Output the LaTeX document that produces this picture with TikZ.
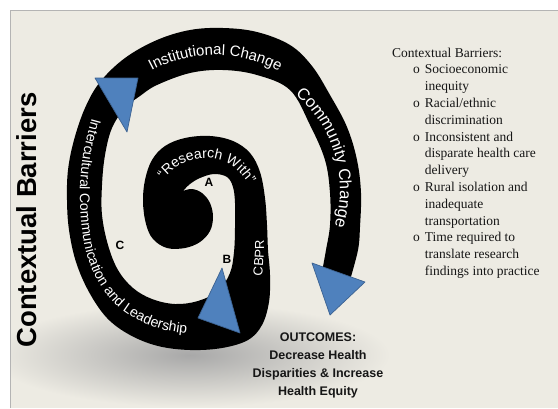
\documentclass[tikz,border=0pt]{standalone}
\usepackage{fontspec}
\setmainfont{Liberation Serif}
\setsansfont{Liberation Sans}
\usetikzlibrary{decorations.text}
\definecolor{bgcol}{RGB}{237,235,227}
\definecolor{arrowblue}{RGB}{79,129,189}
\definecolor{arrowedge}{RGB}{60,98,145}
\definecolor{framegray}{RGB}{180,180,180}
\definecolor{inkdark}{RGB}{22,22,22}
\newcommand\fInst{\sffamily\fontsize{15}{15}\selectfont\color{white}}
\newcommand\fComm{\sffamily\fontsize{16.5}{16.5}\selectfont\color{white}}
\newcommand\fInter{\sffamily\fontsize{14}{14}\selectfont\color{white}}
\newcommand\fRes{\sffamily\fontsize{14}{14}\selectfont\color{white}}
\newcommand\fCbpr{\sffamily\fontsize{13}{13}\selectfont\color{white}}
\tikzset{
  spiralband/.style={fill=black},
  bluearrow/.style={fill=arrowblue, draw=arrowedge, line width=0.7pt, line join=round},
  letterlabel/.style={font=\sffamily\bfseries\fontsize{12}{12}\selectfont, text=black, inner sep=0pt},
  sidetitle/.style={font=\sffamily\bfseries\fontsize{27.5}{27.5}\selectfont, text=black, inner sep=0pt, rotate=90},
  barrierlist/.style={font=\fontsize{13.5}{16.8}\selectfont, text=inkdark, inner sep=0pt, anchor=base west},
  outcomebox/.style={font=\sffamily\bfseries\fontsize{12.5}{18}\selectfont, text=inkdark, inner sep=0pt, anchor=base}
}
\begin{document}
\begin{tikzpicture}[x=1pt,y=-1pt]
\useasboundingbox (0,0) rectangle (558,408);
\fill[white] (0,0) rectangle (558,408);
\fill[bgcol] (10,10) rectangle (558,408);
\begin{scope}
  \clip (10,10) rectangle (558,408);
  \shade[inner color=black!34, outer color=bgcol] (190,355) ellipse [x radius=200, y radius=52];
\end{scope}
\draw[framegray, line width=0.8pt] (10,408) -- (10,10) -- (558,10);

% spiral band
\path[spiralband] plot[smooth, tension=0.6] coordinates {
 (350,280) (358,250) (360,227) (361,193) (357,160) (347,127) (330,95) (312,66) (290,45)
 (257,32) (223,28) (190,30) (157,40) (125,58) (100,82) (85,108) (74,140) (68,170)
 (67,200) (69,230) (76,262) (89,292) (107,318) (130,335) (158,346) (190,350) (222,348)
 (248,340) (262,325) (269,302) (270,275) (268,250) (267,225) (265,198) (260,172)
 (250,153) (233,141) (210,136) (185,138) (165,146) (152,160) (145,180) (143,202)
 (146,224) (153,239) (167,248) (185,248) (200,242) (210,231) (213,217) (210,203)
 (202,193) (192,189) (183,191)}
 -- plot[smooth, tension=0.6] coordinates {
 (183,191) (190,184) (200,178) (214,174) (227,177) (233,187) (235,203) (235,228)
 (234,252) (230,273) (218,291) (198,301) (175,304) (152,299) (133,288) (118,270)
 (108,245) (102,215) (102,185) (105,155) (112,128) (125,108) (140,96) (157,85)
 (190,73) (223,70) (257,75) (290,90) (310,125) (325,160) (330,193) (330,225)
 (326,250) (322,272)} -- cycle;

% labels on the band
\path[decorate, decoration={text along path, text={|\fInst|Institutional Change}}]
  plot[domain=-118:-40, samples=40, variable=\t] ({215+135*cos(\t)},{190+135*sin(\t)});
\path[decorate, decoration={text along path, text={|\fComm|Community Change}}]
  plot[domain=-50:40, samples=40, variable=\t] ({215+125*cos(\t)},{190+125*sin(\t)});
\path[decorate, decoration={text along path, text={|\fInter|Intercultural Communication and Leadership}}]
  plot[smooth] coordinates {(92,118) (84,150) (80,185) (81,220) (86,252) (97,280) (115,304) (138,320) (165,330) (195,334) (225,333) (250,328)};
\path[decorate, decoration={text along path, text={|\fRes|“Research With”}}]
  plot[domain=-146:0, samples=40, variable=\t] ({205+49*cos(\t)},{207+49*sin(\t)});
\path[decorate, decoration={text along path, text={|\fCbpr|CBPR}}]
  plot[smooth] coordinates {(262,276) (264,250) (263,225) (260,205)};

% blue arrowheads
\path[bluearrow] (95,78) -- (138,78) -- (127,132) -- cycle;
\path[bluearrow] (222,268) -- (198,318) -- (240,333) -- cycle;
\path[bluearrow] (312,263) -- (365,282) -- (330,315) -- cycle;

% letters
\node[letterlabel] (la) at (209,182) {A};
\node[letterlabel] (lb) at (227,259) {B};
\node[letterlabel] (lc) at (120,245) {C};

% side title
\node[sidetitle] (side) at (27,220) {Contextual Barriers};

% barrier list
\node[barrierlist] (barriers) at (392,57) {\begin{tabular}[t]{@{\hspace{21pt}}l@{\hspace{5pt}}l@{}}
\multicolumn{2}{@{}l@{}}{Contextual Barriers:}\\
o & Socioeconomic\\
  & inequity\\
o & Racial/ethnic\\
  & discrimination\\
o & Inconsistent and\\
  & disparate health care\\
  & delivery\\
o & Rural isolation and\\
  & inadequate\\
  & transportation\\
o & Time required to\\
  & translate research\\
  & findings into practice
\end{tabular}};

% outcomes
\node[outcomebox] (outcomes) at (318,341) {\begin{tabular}[t]{@{}c@{}}
OUTCOMES:\\
Decrease Health\\
Disparities \& Increase\\
Health Equity
\end{tabular}};
\end{tikzpicture}
\end{document}
